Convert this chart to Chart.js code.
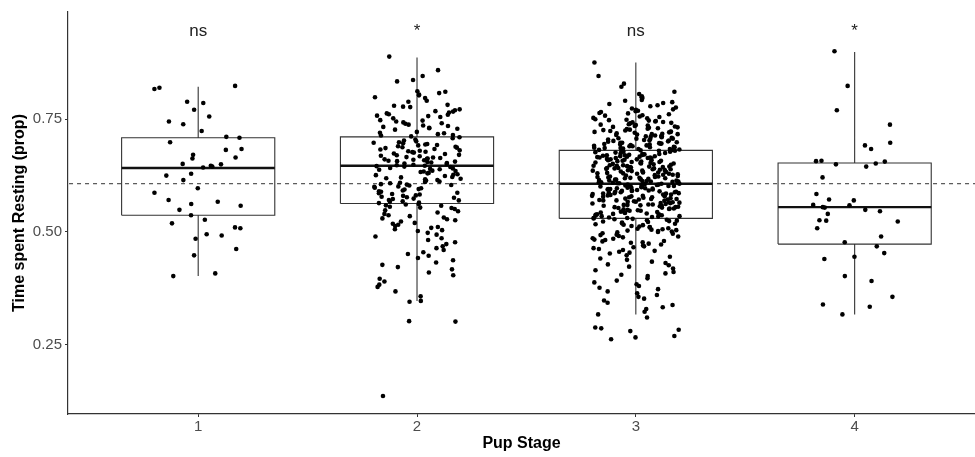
<!DOCTYPE html>
<html>
<head>
<meta charset="utf-8">
<script src="https://cdn.jsdelivr.net/npm/chart.js@4.4.1/dist/chart.umd.min.js"></script>
<style>
  html, body { margin: 0; padding: 0; background: #fff; }
</style>
</head>
<body>
<canvas id="chart" width="975" height="457"></canvas>
<script>
const stages = [1, 2, 3, 4];
const signifLabels = ['ns', '*', 'ns', '*'];

// proportion of time resting, one value per pup
const stage1 = [
  0.817, 0.824, 0.820, 0.786, 0.789, 0.771, 0.756, 0.745, 0.739, 0.724, 0.709, 0.711,
  0.699, 0.684, 0.682, 0.671, 0.665, 0.663, 0.647, 0.651, 0.650, 0.643, 0.645, 0.629,
  0.625, 0.615, 0.597, 0.587, 0.571, 0.562, 0.558, 0.567, 0.549, 0.537, 0.519, 0.527,
  0.508, 0.510, 0.485, 0.492, 0.495, 0.462, 0.448, 0.402, 0.408
];
const stage2 = [
  0.889, 0.859, 0.846, 0.837, 0.834, 0.811, 0.808, 0.812, 0.805, 0.803,
  0.799, 0.797, 0.791, 0.789, 0.782, 0.778, 0.777, 0.780,
  0.772, 0.768, 0.765, 0.760, 0.758, 0.757, 0.770, 0.752, 0.755, 0.763, 0.767, 0.761,
  0.743, 0.747, 0.740, 0.738, 0.736, 0.733, 0.731, 0.729, 0.727, 0.745, 0.741, 0.735, 0.730, 0.748,
  0.722, 0.719, 0.717, 0.714, 0.712, 0.710, 0.708, 0.705, 0.703, 0.701, 0.720, 0.715,
  0.699, 0.697, 0.695, 0.694, 0.692, 0.690, 0.689, 0.687, 0.686, 0.684, 0.683, 0.681,
  0.680, 0.679, 0.678, 0.677, 0.676, 0.698, 0.693, 0.688,
  0.674, 0.673, 0.671, 0.670, 0.669, 0.668, 0.666, 0.665, 0.664, 0.663, 0.662, 0.661,
  0.660, 0.659, 0.658, 0.657, 0.656, 0.655, 0.654, 0.653, 0.652, 0.651,
  0.649, 0.648, 0.647, 0.646, 0.645, 0.644, 0.642, 0.641, 0.640, 0.639, 0.638, 0.636,
  0.635, 0.634, 0.633, 0.631, 0.630, 0.628, 0.627, 0.626,
  0.624, 0.622, 0.621, 0.619, 0.618, 0.617, 0.615, 0.614, 0.612, 0.611, 0.609, 0.608,
  0.606, 0.605, 0.604, 0.603, 0.601, 0.600,
  0.598, 0.597, 0.595, 0.594, 0.592, 0.590, 0.589, 0.587, 0.586, 0.584, 0.583, 0.581,
  0.580, 0.578, 0.577, 0.576,
  0.574, 0.573, 0.571, 0.570, 0.568, 0.567, 0.565, 0.564, 0.562, 0.561, 0.559, 0.558,
  0.556, 0.554, 0.553, 0.551,
  0.548, 0.546, 0.543, 0.540, 0.537, 0.535, 0.532, 0.530, 0.528, 0.526,
  0.523, 0.520, 0.518, 0.516, 0.513, 0.511, 0.509, 0.506, 0.504, 0.502,
  0.498, 0.494, 0.490, 0.486, 0.482, 0.477, 0.473, 0.468, 0.464, 0.460, 0.455, 0.451,
  0.447, 0.442, 0.437, 0.432, 0.427, 0.422, 0.417, 0.410, 0.404,
  0.396, 0.390, 0.383, 0.378, 0.368, 0.357, 0.347, 0.345, 0.302, 0.301, 0.136
];
const stage3 = [
  0.876, 0.846, 0.829, 0.822, 0.811, 0.806, 0.801,
  0.799, 0.797, 0.793, 0.791, 0.788, 0.786, 0.784, 0.781, 0.779, 0.776,
  0.774, 0.772, 0.771, 0.769, 0.768, 0.766, 0.764, 0.763, 0.761, 0.759, 0.758, 0.756,
  0.755, 0.753, 0.752, 0.750,
  0.749, 0.748, 0.746, 0.745, 0.744, 0.743, 0.741, 0.740, 0.739, 0.738, 0.737, 0.735,
  0.734, 0.733, 0.732, 0.731, 0.730, 0.729, 0.728, 0.727, 0.726, 0.725, 0.747, 0.742, 0.736,
  0.724, 0.723, 0.722, 0.721, 0.720, 0.719, 0.718, 0.717, 0.716, 0.715, 0.714, 0.713,
  0.712, 0.711, 0.710, 0.709, 0.708, 0.707, 0.706, 0.705, 0.704, 0.703, 0.702, 0.701,
  0.700, 0.722, 0.717, 0.712, 0.707, 0.703,
  0.699, 0.698, 0.697, 0.696, 0.695, 0.694, 0.693, 0.692, 0.691, 0.690, 0.689, 0.688,
  0.687, 0.686, 0.685, 0.684, 0.683, 0.682, 0.681, 0.680, 0.679, 0.678, 0.677, 0.676,
  0.675, 0.698, 0.694, 0.690, 0.686, 0.682, 0.678, 0.696, 0.688, 0.684, 0.680,
  0.674, 0.673, 0.672, 0.671, 0.670, 0.669, 0.668, 0.667, 0.666, 0.665, 0.664, 0.663,
  0.662, 0.661, 0.660, 0.659, 0.658, 0.657, 0.656, 0.655, 0.654, 0.653, 0.652, 0.651,
  0.650, 0.673, 0.670, 0.667, 0.664, 0.661, 0.658, 0.655, 0.652, 0.671, 0.665, 0.659,
  0.653, 0.668,
  0.649, 0.648, 0.647, 0.646, 0.645, 0.644, 0.643, 0.642, 0.641, 0.640, 0.639, 0.638,
  0.637, 0.636, 0.635, 0.634, 0.633, 0.632, 0.631, 0.630, 0.629, 0.628, 0.627, 0.626,
  0.625, 0.648, 0.645, 0.642, 0.639, 0.636, 0.633, 0.630, 0.627, 0.647, 0.641, 0.635,
  0.629, 0.644, 0.638, 0.632,
  0.624, 0.623, 0.622, 0.621, 0.620, 0.619, 0.618, 0.617, 0.616, 0.615, 0.614, 0.613,
  0.612, 0.611, 0.610, 0.609, 0.608, 0.607, 0.606, 0.605, 0.604, 0.603, 0.602, 0.601,
  0.600, 0.623, 0.620, 0.617, 0.614, 0.611, 0.608, 0.605, 0.602, 0.622, 0.616, 0.610,
  0.604, 0.619, 0.613, 0.607, 0.601, 0.612,
  0.599, 0.598, 0.597, 0.596, 0.595, 0.594, 0.593, 0.592, 0.591, 0.590, 0.589, 0.588,
  0.587, 0.586, 0.585, 0.584, 0.583, 0.582, 0.581, 0.580, 0.579, 0.578, 0.577, 0.576,
  0.575, 0.598, 0.595, 0.592, 0.589, 0.586, 0.583, 0.580, 0.577, 0.597, 0.591, 0.585,
  0.579, 0.594, 0.588, 0.582,
  0.574, 0.573, 0.572, 0.571, 0.570, 0.569, 0.568, 0.567, 0.566, 0.565, 0.564, 0.563,
  0.562, 0.561, 0.560, 0.559, 0.558, 0.557, 0.556, 0.555, 0.554, 0.553, 0.552, 0.551,
  0.550, 0.573, 0.570, 0.567, 0.564, 0.561, 0.558, 0.555, 0.552, 0.572, 0.566, 0.560,
  0.549, 0.548, 0.547, 0.546, 0.545, 0.544, 0.543, 0.542, 0.541, 0.540, 0.539, 0.538,
  0.537, 0.536, 0.535, 0.534, 0.533, 0.532, 0.531, 0.530, 0.529, 0.528, 0.527, 0.526,
  0.525, 0.547, 0.543, 0.539, 0.535, 0.531,
  0.524, 0.523, 0.522, 0.521, 0.519, 0.518, 0.517, 0.516, 0.515, 0.513, 0.512, 0.511,
  0.510, 0.508, 0.507, 0.506, 0.505, 0.504, 0.503, 0.502, 0.501, 0.500,
  0.499, 0.497, 0.496, 0.494, 0.493, 0.491, 0.490, 0.488, 0.486, 0.485, 0.483, 0.482,
  0.480, 0.479, 0.477, 0.476,
  0.474, 0.472, 0.470, 0.468, 0.466, 0.464, 0.462, 0.460, 0.458, 0.456, 0.454, 0.452,
  0.448, 0.445, 0.441, 0.438, 0.434, 0.431, 0.428, 0.426,
  0.423, 0.419, 0.415, 0.411, 0.408, 0.405, 0.402,
  0.397, 0.392, 0.388, 0.384, 0.380, 0.376,
  0.373, 0.368, 0.364, 0.360, 0.356, 0.352,
  0.348, 0.343, 0.338, 0.333, 0.329, 0.323, 0.317, 0.310,
  0.288, 0.286, 0.283, 0.280, 0.269, 0.266, 0.262
];
const stage4 = [
  0.901, 0.824, 0.770, 0.738, 0.692, 0.698, 0.684, 0.658, 0.656, 0.657, 0.650, 0.652,
  0.645, 0.621, 0.584, 0.572, 0.570, 0.559, 0.554, 0.560, 0.555, 0.549, 0.546, 0.540,
  0.525, 0.526, 0.523, 0.508, 0.490, 0.477, 0.468, 0.453, 0.445, 0.440, 0.402, 0.391,
  0.356, 0.339, 0.334, 0.317
];

// box statistics
const q1 = [0.537, 0.563, 0.530, 0.473];
const medians = [0.642, 0.647, 0.607, 0.555];
const q3 = [0.709, 0.711, 0.681, 0.653];
const whiskerLow = [0.402, 0.347, 0.317, 0.317];
const whiskerHigh = [0.822, 0.887, 0.876, 0.899];
const overallMean = 0.607;

const yTicks = [0.25, 0.50, 0.75];

const groups = [stage1, stage2, stage3, stage4];
const boxHalf = 0.35;
const jitterHalf = 0.2;

// fixed, repeatable horizontal jitter (like geom_jitter with a seed)
function jitter(i, g) {
  const s = Math.sin(i * 12.9898 + g * 78.233) * 43758.5453;
  const f = s - Math.floor(s);
  return (f - 0.5) * 2 * jitterHalf;
}

let points = [];
groups.forEach((vals, g) => {
  vals.forEach((v, i) => points.push({ x: stages[g] + jitter(i, g), y: v }));
});

let boxLines = [];
let medianLines = [];
stages.forEach((s, i) => {
  boxLines.push(
    { x: s - boxHalf, y: q1[i] }, { x: s + boxHalf, y: q1[i] },
    { x: s + boxHalf, y: q3[i] }, { x: s - boxHalf, y: q3[i] },
    { x: s - boxHalf, y: q1[i] }, { x: s, y: null },
    { x: s, y: q3[i] }, { x: s, y: whiskerHigh[i] }, { x: s, y: null },
    { x: s, y: q1[i] }, { x: s, y: whiskerLow[i] }, { x: s, y: null }
  );
  medianLines.push({ x: s - boxHalf, y: medians[i] }, { x: s + boxHalf, y: medians[i] }, { x: s, y: null });
});

const signifPlugin = {
  id: 'signif',
  afterDatasetsDraw(chart) {
    const ctx = chart.ctx;
    const xs = chart.scales.x, ys = chart.scales.y;
    ctx.save();
    ctx.font = '17px "Liberation Sans", Arial, sans-serif';
    ctx.fillStyle = '#222';
    ctx.textAlign = 'center';
    ctx.textBaseline = 'alphabetic';
    stages.forEach((s, i) => {
      ctx.fillText(signifLabels[i], xs.getPixelForValue(s), ys.getPixelForValue(0.934));
    });
    ctx.restore();
  }
};

const tickFont = { family: '"Liberation Sans", Arial, sans-serif', size: 15 };
const titleFont = { family: '"Liberation Sans", Arial, sans-serif', size: 16, weight: 'bold' };

new Chart(document.getElementById('chart'), {
  type: 'scatter',
  data: {
    datasets: [
      {
        data: points,
        backgroundColor: '#000',
        borderWidth: 0,
        pointRadius: 2.3,
        pointHoverRadius: 2.3,
        order: 0
      },
      {
        type: 'line',
        data: medianLines,
        borderColor: '#111',
        borderWidth: 2.4,
        pointRadius: 0,
        spanGaps: false,
        fill: false,
        order: 1
      },
      {
        type: 'line',
        data: boxLines,
        borderColor: '#333',
        borderWidth: 1.1,
        pointRadius: 0,
        spanGaps: false,
        fill: false,
        order: 2
      },
      {
        type: 'line',
        data: [{ x: 0.3, y: overallMean }, { x: 4.7, y: overallMean }],
        borderColor: '#333',
        borderWidth: 1,
        borderDash: [4, 4],
        pointRadius: 0,
        fill: false,
        order: 3
      }
    ]
  },
  options: {
    responsive: false,
    animation: false,
    layout: { autoPadding: false, padding: { top: 12, right: 0, left: 0, bottom: 0 } },
    plugins: { legend: { display: false }, tooltip: { enabled: false } },
    scales: {
      x: {
        type: 'linear',
        min: 0.405,
        max: 4.55,
        afterBuildTicks: scale => { scale.ticks = stages.map(v => ({ value: v })); },
        afterFit: scale => { scale.height = 43; },
        grid: { drawOnChartArea: false, drawTicks: true, tickLength: 3, color: '#333' },
        border: { display: true, color: '#333', width: 1.2 },
        ticks: { font: tickFont, color: '#4d4d4d', padding: 1, maxRotation: 0 },
        title: { display: true, text: 'Pup Stage', font: titleFont, color: '#000', padding: { top: 0, bottom: 4 } }
      },
      y: {
        min: 0.096,
        max: 0.988,
        afterBuildTicks: scale => { scale.ticks = yTicks.map(v => ({ value: v })); },
        afterFit: scale => { scale.width = 68; },
        grid: { drawOnChartArea: false, drawTicks: true, tickLength: 3, color: '#333' },
        border: { display: true, color: '#333', width: 1.2 },
        ticks: { font: tickFont, color: '#4d4d4d', padding: 3, callback: v => v.toFixed(2) },
        title: { display: true, text: 'Time spent Resting (prop)', font: titleFont, color: '#000', padding: { top: 10, bottom: 0 } }
      }
    }
  },
  plugins: [signifPlugin]
});
</script>
</body>
</html>
